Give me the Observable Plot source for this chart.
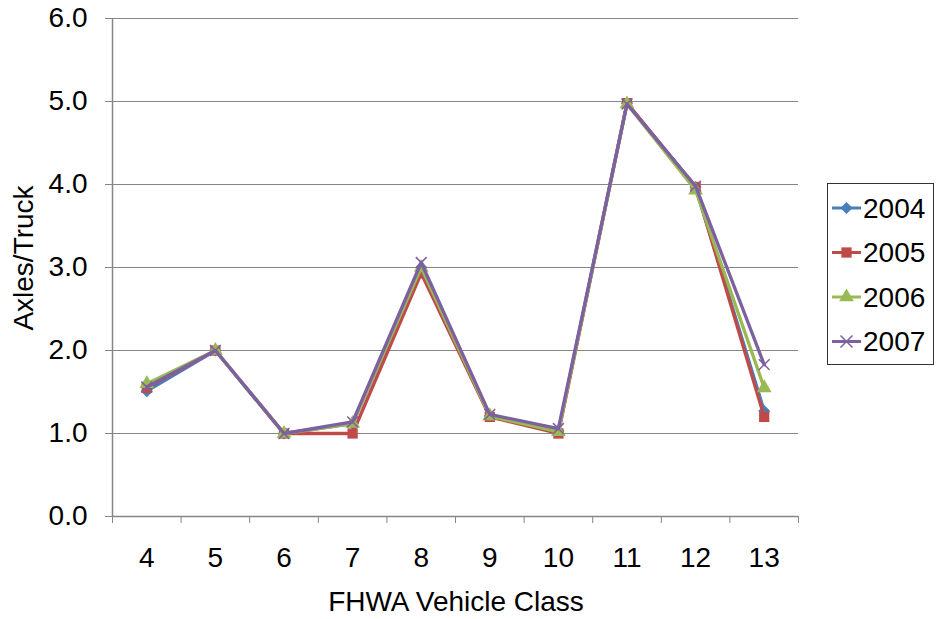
<!DOCTYPE html>
<html><head><meta charset="utf-8">
<script src="https://cdn.jsdelivr.net/npm/d3@7"></script>
<script src="https://cdn.jsdelivr.net/npm/@observablehq/plot@0.6"></script>
<style>body{margin:0;background:#fff;} #chart{width:937px;height:619px;}</style>
</head><body><div id="chart"></div>
<script>
const classes = [4,5,6,7,8,9,10,11,12,13];
const years = ["2004","2005","2006","2007"];
const v2004 = [1.51,2.00,1.00,1.12,3.00,1.21,1.03,4.98,3.97,1.27];
const v2005 = [1.55,2.00,1.00,1.00,2.93,1.20,1.00,4.98,3.97,1.20];
const v2006 = [1.60,2.00,1.00,1.12,3.00,1.21,1.02,4.97,3.93,1.55];
const v2007 = [1.56,2.00,1.00,1.14,3.06,1.23,1.06,4.97,3.98,1.83];
const yTicks = [0,1,2,3,4,5,6];
const colors = ["#4a7ebb","#be4b48","#98b954","#7d60a0"];
const symbols = ["diamond2","square","triangle","times"];
const xLabel = "FHWA Vehicle Class";
const yLabel = "Axles/Truck";

const series = [v2004, v2005, v2006, v2007];
const data = years.flatMap((yr, i) => classes.map((c, j) => ({year: yr, cls: c, value: series[i][j], idx: i})));
const bounds = classes.map(c => c - 0.5).concat([classes[classes.length-1] + 0.5]);
const gray = "#868686";
const font = "'Liberation Sans', Arial, sans-serif";
const fs = 28;

const marks = [
  Plot.ruleY(yTicks.slice(1), {stroke: gray, strokeWidth: 1.2}),
  Plot.axisY({ticks: yTicks, tickFormat: d => d.toFixed(1), tickSize: 7, tickPadding: 18, fontSize: fs, stroke: gray, label: null}),
  Plot.axisX({ticks: classes, tickFormat: d => String(d), tickSize: 0, tickPadding: 31, fontSize: fs, label: null}),
  Plot.axisX({ticks: bounds, tickFormat: () => "", tickSize: 7, stroke: gray, label: null}),
  Plot.ruleX([bounds[0]], {stroke: gray, strokeWidth: 1.5}),
  Plot.ruleY([0], {stroke: gray, strokeWidth: 1.5})
];
years.forEach((yr, i) => {
  const d = data.filter(r => r.year === yr);
  marks.push(Plot.line(d, {x: "cls", y: "value", stroke: colors[i], strokeWidth: 3.3}));
  if (symbols[i] === "times") {
    marks.push(Plot.dot(d, {x: "cls", y: "value", symbol: "times", stroke: colors[i], strokeWidth: 1.5, r: 5}));
  } else {
    marks.push(Plot.dot(d, {x: "cls", y: "value", symbol: symbols[i], fill: colors[i], stroke: "none", r: symbols[i] === "square" ? 5.8 : 5.5}));
  }
});

const plot = Plot.plot({
  width: 937, height: 619,
  marginLeft: 112, marginRight: 139, marginTop: 18, marginBottom: 103,
  style: {fontFamily: font, color: "black", background: "white"},
  x: {type: "linear", domain: [bounds[0], bounds[bounds.length-1]]},
  y: {domain: [0, 6]},
  marks
});
document.getElementById("chart").appendChild(plot);

const svg = d3.select(plot);
svg.append("text").attr("x", 456).attr("y", 601).attr("dy", "0.35em").attr("text-anchor", "middle")
  .attr("font-size", fs).attr("font-family", font).attr("fill", "black").text(xLabel);
svg.append("text").attr("transform", "translate(23,258) rotate(-90)").attr("dy", "0.35em").attr("text-anchor", "middle")
  .attr("font-size", fs).attr("font-family", font).attr("fill", "black").text(yLabel);

const lg = svg.append("g");
lg.append("rect").attr("x", 827.5).attr("y", 183.5).attr("width", 106).attr("height", 181)
  .attr("fill", "white").attr("stroke", "#333").attr("stroke-width", 1);
const symGen = {diamond2: d3.symbolDiamond2, square: d3.symbolSquare, triangle: d3.symbolTriangle, times: d3.symbolTimes};
years.forEach((yr, i) => {
  const y = 208 + i * 44.5;
  lg.append("line").attr("x1", 832).attr("x2", 861).attr("y1", y).attr("y2", y).attr("stroke", colors[i]).attr("stroke-width", 3);
  const r = symbols[i] === "square" ? 5.8 : 5.5;
  const p = d3.symbol(symGen[symbols[i]], Math.PI * r * r)();
  const s = lg.append("path").attr("d", p).attr("transform", `translate(846.5,${y})`);
  if (symbols[i] === "times") s.attr("fill", "none").attr("stroke", colors[i]).attr("stroke-width", 1.5);
  else s.attr("fill", colors[i]);
  lg.append("text").attr("x", 863).attr("y", y).attr("dy", "0.35em").attr("text-anchor", "start").attr("font-size", fs)
    .attr("font-family", font).attr("fill", "black").text(yr);
});
</script></body></html>
